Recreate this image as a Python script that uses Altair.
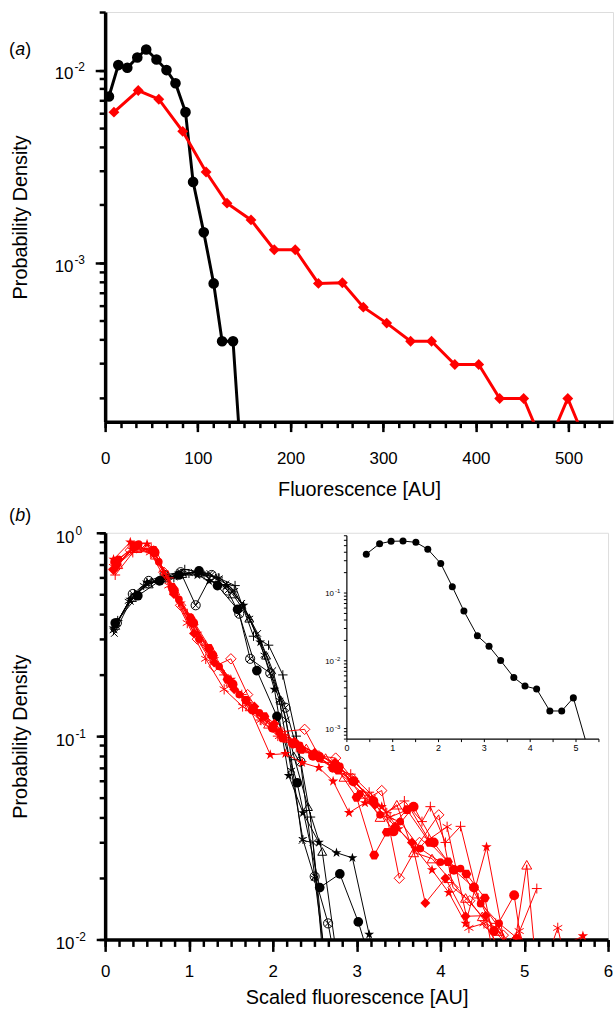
import altair as alt
import pandas as pd

FONT = "Liberation Sans"
BLACK = "#000000"
RED = "#ff0000"

# ---------------- panel (a) data ----------------
a_black_x = [4.1, 14.2, 23.9, 34.7, 44.3, 55.4, 66.2, 75.9, 86.7, 94.9, 106.4, 117.1, 126.2, 138.0, 149.5]
a_black_y = [0.00729, 0.01061, 0.01028, 0.01162, 0.01279, 0.01135, 0.0100, 0.00854, 0.00605, 0.00263,
             0.00144, 0.000782, 0.000392, 0.000392, 0.00006]
a_red_x = [9.5, 35.7, 57.9, 83.7, 108.9, 131.5, 157.4, 182.5, 205.1, 230.1, 256.0, 278.6, 303.8, 329.6,
           352.2, 377.3, 403.1, 425.7, 451.6, 475.2, 499.2, 523.7]
a_red_y = [0.00605, 0.00783, 0.00706, 0.00481, 0.00296, 0.00204, 0.00167, 0.00117, 0.00117, 0.000782,
           0.000788, 0.000589, 0.000487, 0.000392, 0.000392, 0.000297, 0.000297, 0.000198, 0.000198,
           0.000106, 0.000198, 0.000103]
a_x_labels = [0, 100, 200, 300, 400, 500]
a_decades = [0.001, 0.01]
a_decade_exp = ["-3", "-2"]

# ---------------- panel (b) data: black series ----------------
bk_circle_x = [0.12, 0.39, 0.65, 0.88, 1.12, 1.34, 1.58, 1.81, 2.05, 2.29, 2.56, 2.80, 3.02, 3.25]
bk_circle_y = [0.36, 0.49, 0.58, 0.62, 0.65, 0.55, 0.42, 0.21, 0.125, 0.059, 0.018, 0.021, 0.0122, 0.006]
bk_otimes_x = [0.14, 0.33, 0.52, 0.71, 0.90, 1.08, 1.27, 1.46, 1.60, 1.73, 1.97, 2.15, 2.33, 2.50, 2.66, 2.83]
bk_otimes_y = [0.36, 0.50, 0.58, 0.62, 0.64, 0.44, 0.62, 0.52, 0.40, 0.24, 0.204, 0.138, 0.075, 0.0204, 0.012, 0.005]
bk_star_x = [0.10, 0.30, 0.50, 0.70, 0.90, 1.10, 1.24, 1.45, 1.65, 1.85, 2.02, 2.19, 2.36, 2.55, 2.76, 2.95, 3.15, 3.30]
bk_star_y = [0.34, 0.47, 0.57, 0.60, 0.62, 0.62, 0.58, 0.55, 0.44, 0.29, 0.17, 0.064, 0.042, 0.030, 0.0267, 0.0252, 0.0106, 0.005]
bk_aster_x = [0.10, 0.28, 0.46, 0.64, 0.82, 1.00, 1.18, 1.36, 1.54, 1.72, 1.90, 2.08, 2.22, 2.36, 2.50, 2.64]
bk_aster_y = [0.33, 0.46, 0.55, 0.58, 0.60, 0.63, 0.62, 0.60, 0.52, 0.38, 0.25, 0.15, 0.068, 0.031, 0.020, 0.007]
bk_plus_x = [0.15, 0.35, 0.55, 0.75, 0.95, 1.15, 1.35, 1.55, 1.77, 1.95, 2.12, 2.28, 2.45, 2.62]
bk_plus_y = [0.37, 0.50, 0.57, 0.61, 0.66, 0.64, 0.60, 0.55, 0.31, 0.28, 0.20, 0.10, 0.040, 0.008]
bk_tri_x = [0.12, 0.32, 0.52, 0.72, 0.92, 1.12, 1.32, 1.52, 1.72, 1.92, 2.10, 2.25, 2.42, 2.59, 2.75]
bk_tri_y = [0.35, 0.48, 0.56, 0.60, 0.63, 0.64, 0.60, 0.50, 0.38, 0.25, 0.15, 0.080, 0.045, 0.0271, 0.009]
bk_cross_x = [0.11, 0.30, 0.49, 0.68, 0.87, 1.06, 1.25, 1.44, 1.63, 1.82, 2.00, 2.16, 2.35, 2.48, 2.60]
bk_cross_y = [0.32, 0.46, 0.56, 0.59, 0.62, 0.64, 0.63, 0.56, 0.45, 0.32, 0.21, 0.12, 0.0307, 0.030, 0.008]

# ---------------- panel (b) data: red series ----------------
rd_circle_x = [0.12, 0.35, 0.59, 0.82, 1.05, 1.28, 1.52, 1.76, 2.00, 2.24, 2.48, 2.72, 2.96, 3.20, 3.44, 3.68,
               3.92, 4.16, 4.40, 4.64, 4.88, 5.10]
rd_circle_y = [0.72, 0.86, 0.80, 0.52, 0.36, 0.25, 0.18, 0.135, 0.110, 0.092, 0.080, 0.070, 0.060, 0.048, 0.034,
               0.045, 0.030, 0.022, 0.018, 0.011, 0.0165, 0.004]
rd_diam_x = [0.10, 0.30, 0.50, 0.70, 0.90, 1.10, 1.30, 1.50, 1.70, 1.90, 2.10, 2.38, 2.55, 2.75, 2.95, 3.15,
             3.30, 3.51, 3.75, 3.98, 4.15, 4.35, 4.55, 4.75, 4.95]
rd_diam_y = [0.66, 0.82, 0.84, 0.64, 0.44, 0.30, 0.22, 0.24, 0.16, 0.12, 0.105, 0.108, 0.080, 0.078, 0.062, 0.050,
             0.054, 0.020, 0.030, 0.041, 0.018, 0.0155, 0.012, 0.0105, 0.006]
rd_tri_x = [0.15, 0.38, 0.60, 0.83, 1.05, 1.28, 1.50, 1.73, 1.95, 2.18, 2.40, 2.63, 2.85, 3.08, 3.28, 3.48,
            3.68, 3.90, 4.10, 4.30, 4.50, 4.70, 4.86, 5.03, 5.20]
rd_tri_y = [0.70, 0.84, 0.78, 0.52, 0.37, 0.26, 0.185, 0.14, 0.115, 0.098, 0.087, 0.078, 0.063, 0.052, 0.040,
            0.046, 0.0268, 0.025, 0.020, 0.016, 0.013, 0.011, 0.008, 0.0233, 0.004]
rd_plus_x = [0.12, 0.33, 0.55, 0.76, 0.98, 1.20, 1.42, 1.63, 1.85, 2.06, 2.28, 2.50, 2.71, 2.93, 3.15, 3.36,
             3.57, 3.78, 3.88, 4.06, 4.24, 4.45, 4.66, 4.86, 5.15]
rd_plus_y = [0.62, 0.80, 0.84, 0.60, 0.40, 0.28, 0.20, 0.16, 0.12, 0.100, 0.088, 0.082, 0.070, 0.065, 0.053,
             0.042, 0.048, 0.038, 0.045, 0.030, 0.036, 0.016, 0.012, 0.009, 0.0178]
rd_star_x = [0.10, 0.30, 0.50, 0.70, 0.90, 1.10, 1.30, 1.50, 1.70, 1.97, 2.15, 2.35, 2.55, 2.72, 2.91, 3.10,
             3.30, 3.50, 3.70, 3.90, 4.10, 4.30, 4.55, 4.80, 5.10, 5.40, 5.70, 5.85]
rd_star_y = [0.74, 0.90, 0.88, 0.64, 0.45, 0.32, 0.24, 0.19, 0.145, 0.081, 0.082, 0.074, 0.070, 0.060, 0.042,
             0.047, 0.045, 0.035, 0.028, 0.022, 0.017, 0.012, 0.0285, 0.008, 0.006, 0.009, 0.0104, 0.008]
rd_aster_x = [0.10, 0.32, 0.54, 0.76, 0.98, 1.20, 1.42, 1.64, 1.86, 2.08, 2.30, 2.52, 2.74, 2.96, 3.18, 3.40,
              3.64, 3.86, 4.08, 4.34, 4.52, 4.72, 4.94, 5.16, 5.40, 5.60]
rd_aster_y = [0.68, 0.82, 0.80, 0.55, 0.36, 0.24, 0.17, 0.14, 0.12, 0.10, 0.09, 0.08, 0.07, 0.06, 0.05, 0.04,
              0.044, 0.031, 0.0358, 0.0114, 0.012, 0.009, 0.011, 0.006, 0.0114, 0.005]
rd_hex_x = [0.14, 0.36, 0.58, 0.80, 1.02, 1.24, 1.46, 1.68, 1.90, 2.12, 2.34, 2.56, 2.78, 3.00, 3.21, 3.36,
            3.60, 3.87, 4.09, 4.31, 4.53, 4.75]
rd_hex_y = [0.70, 0.86, 0.82, 0.54, 0.38, 0.27, 0.19, 0.15, 0.125, 0.098, 0.086, 0.078, 0.068, 0.050, 0.026,
            0.0337, 0.0435, 0.030, 0.0241, 0.021, 0.016, 0.006]
rd_fdiam_x = [0.10, 0.34, 0.58, 0.82, 1.06, 1.30, 1.54, 1.78, 2.02, 2.26, 2.50, 2.74, 2.98, 3.22, 3.46, 3.66,
              3.82, 4.06, 4.30, 4.54, 4.70]
rd_fdiam_y = [0.66, 0.84, 0.82, 0.50, 0.32, 0.23, 0.17, 0.14, 0.115, 0.094, 0.083, 0.074, 0.060, 0.046, 0.036,
              0.030, 0.0151, 0.020, 0.013, 0.0131, 0.006]
rd_dot_x = [0.16, 0.40, 0.64, 0.88, 1.12, 1.36, 1.60, 1.84, 2.08, 2.32, 2.56, 2.80, 3.04, 3.28, 3.52, 3.76,
            4.00, 4.24, 4.48, 4.70, 4.91, 5.00]
rd_dot_y = [0.74, 0.88, 0.72, 0.47, 0.30, 0.22, 0.16, 0.13, 0.105, 0.090, 0.080, 0.071, 0.052, 0.041, 0.038,
            0.028, 0.024, 0.0223, 0.015, 0.012, 0.0102, 0.005]

b_x_labels = [0, 1, 2, 3, 4, 5, 6]
b_decades = [0.01, 0.1, 1.0]
b_decade_exp = ["-2", "-1", "0"]

# ---------------- inset data ----------------
in_x = [0.424, 0.714, 0.965, 1.225, 1.506, 1.766, 2.048, 2.301, 2.554, 2.848, 3.102, 3.355, 3.643, 3.887,
        4.141, 4.429, 4.688, 4.942, 5.2]
in_y = [0.375, 0.535, 0.580, 0.585, 0.560, 0.443, 0.273, 0.124, 0.0542, 0.0234, 0.0164, 0.0101, 0.00568,
        0.00424, 0.00383, 0.00182, 0.00182, 0.00284, 0.00052]
in_x_labels = [0, 1, 2, 3, 4, 5]
in_decades = [0.001, 0.01, 0.1]
in_decade_exp = ["-3", "-2", "-1"]
IN_DOM_X = [0, 5.5]
IN_DOM_Y = [7e-4, 0.7]

# panel tags: (open paren, italic letter, close paren)
tag_parts = ["(", ")"]
tag_a = "a"
tag_b = "b"

# ---------------- layout constants ----------------
A_W, A_H = 512, 413
B_W, B_H = 507, 410
IN_X0, IN_X1 = 243.7, 497.8
IN_YB, IN_YT = 208, 3

SH_STAR = ("M0,-1L0.2245,-0.309L0.951,-0.309L0.363,0.118L0.588,0.809L0,0.382L-0.588,0.809"
           "L-0.363,0.118L-0.951,-0.309L-0.2245,-0.309Z")
SH_ASTER = "M0,-1L0,1M-0.866,-0.5L0.866,0.5M-0.866,0.5L0.866,-0.5"
SH_PLUS = "M-1,0L1,0M0,-1L0,1"
SH_X = "M-0.75,-0.75L0.75,0.75M-0.75,0.75L0.75,-0.75"
SH_OTIMES = ("M1,0A1,1,0,1,1,-1,0A1,1,0,1,1,1,0M-0.707,-0.707L0.707,0.707"
             "M-0.707,0.707L0.707,-0.707")
SH_HEX = "M1,0L0.5,0.866L-0.5,0.866L-1,0L-0.5,-0.866L0.5,-0.866Z"


def log_ticks(lo, hi):
    out = []
    for e in range(-6, 2):
        for k in range(1, 10):
            v = float(f"{k}e{e}")
            if lo * 0.9999 <= v <= hi * 1.0001:
                out.append(v)
    return out


def minor_axis(orient, values, size, dwidth=3.5, twidth=2.5):
    return alt.Axis(orient=orient, values=values, tickSize=size, tickWidth=twidth, tickColor=BLACK,
                    labels=False, title=None, domain=True, domainWidth=dwidth, domainColor=BLACK,
                    grid=False)


def tag_layers(letter, ypix):
    one = pd.DataFrame({"t": [0]})
    out = []
    out.append(alt.Chart(one).mark_text(align="left", baseline="middle", fontSize=18, font=FONT,
                                        color=BLACK, text=tag_parts[0]).encode(
        x=alt.value(-97), y=alt.value(ypix)))
    out.append(alt.Chart(one).mark_text(align="left", baseline="middle", fontSize=18, font=FONT,
                                        fontStyle="italic", color=BLACK, text=letter).encode(
        x=alt.value(-90.5), y=alt.value(ypix)))
    out.append(alt.Chart(one).mark_text(align="left", baseline="middle", fontSize=18, font=FONT,
                                        color=BLACK, text=tag_parts[1]).encode(
        x=alt.value(-80.5), y=alt.value(ypix)))
    return out


# ================= panel (a) =================
xs_a = alt.Scale(domain=[0, 548], nice=False, zero=False)
ys_a = alt.Scale(type="log", domain=[1.5e-4, 0.02], nice=False)

ax_a_x_major = alt.Axis(orient="bottom", values=a_x_labels, tickSize=10, tickWidth=2.5, tickColor=BLACK,
                        labels=True, labelFont=FONT, labelFontSize=17, labelColor=BLACK, labelPadding=19,
                        labelOverlap=False, labelFlush=False, format="d",
                        title="Fluorescence [AU]", titleFont=FONT, titleFontSize=20,
                        titleFontWeight="normal", titleColor=BLACK, titlePadding=18,
                        minExtent=40, maxExtent=40, domain=False, grid=False)
ax_a_y_major = alt.Axis(orient="left", values=a_decades, tickSize=10, tickWidth=2.5, tickColor=BLACK,
                        labels=False, title="Probability Density", titleFont=FONT, titleFontSize=20,
                        titleFontWeight="normal", titleColor=BLACK, titlePadding=65,
                        minExtent=10, maxExtent=10, domain=False, grid=False)

dfa_k = pd.DataFrame({"x": a_black_x, "y": a_black_y})
dfa_r = pd.DataFrame({"x": a_red_x, "y": a_red_y})
dfa_lab = pd.DataFrame({"y": a_decades, "e": a_decade_exp})

a_line_k = alt.Chart(dfa_k).mark_line(color=BLACK, strokeWidth=3, clip=True).encode(
    x=alt.X("x:Q", scale=xs_a, axis=minor_axis("bottom", [round(i * 100 / 6, 4) for i in range(33)], 6)),
    y=alt.Y("y:Q", scale=ys_a, axis=minor_axis("left", log_ticks(1.5e-4, 0.02), 6)))
a_line_r = alt.Chart(dfa_r).mark_line(color=RED, strokeWidth=3, clip=True).encode(
    x=alt.X("x:Q", scale=xs_a, axis=ax_a_x_major),
    y=alt.Y("y:Q", scale=ys_a, axis=ax_a_y_major))
a_pts_k = alt.Chart(dfa_k).mark_point(shape="circle", filled=True, size=115, color=BLACK, opacity=1,
                                      clip=True).encode(
    x=alt.X("x:Q", scale=xs_a, axis=None), y=alt.Y("y:Q", scale=ys_a, axis=None))
a_pts_r = alt.Chart(dfa_r).mark_point(shape="diamond", filled=True, size=120, color=RED, opacity=1,
                                      clip=True).encode(
    x=alt.X("x:Q", scale=xs_a, axis=None), y=alt.Y("y:Q", scale=ys_a, axis=None))
a_lab10 = alt.Chart(dfa_lab).mark_text(align="right", baseline="middle", dx=-32, dy=4, fontSize=17,
                                       font=FONT, color=BLACK).encode(
    x=alt.value(0), y=alt.Y("y:Q", scale=ys_a, axis=None), text=alt.value("10"))
a_labexp = alt.Chart(dfa_lab).mark_text(align="left", baseline="middle", dx=-31, dy=-3, fontSize=12,
                                        font=FONT, color=BLACK).encode(
    x=alt.value(0), y=alt.Y("y:Q", scale=ys_a, axis=None), text="e:N")

panel_a = alt.layer(a_line_k, a_line_r, a_pts_k, a_pts_r, a_lab10, a_labexp,
                    *tag_layers(tag_a, 38.5)).resolve_axis(
    x="independent", y="independent").properties(width=A_W, height=A_H)

# ================= panel (b) main =================
xs_b = alt.Scale(domain=[0, 6], nice=False, zero=False)
ys_b = alt.Scale(type="log", domain=[0.01, 1.0], nice=False)

ax_b_x_major = alt.Axis(orient="bottom", values=b_x_labels, tickSize=12, tickWidth=2.5, tickColor=BLACK,
                        labels=True, labelFont=FONT, labelFontSize=17, labelColor=BLACK, labelPadding=12,
                        labelOverlap=False, labelFlush=False, format="d",
                        title="Scaled fluorescence [AU]", titleFont=FONT, titleFontSize=20,
                        titleFontWeight="normal", titleColor=BLACK, titlePadding=19,
                        minExtent=30, maxExtent=30, domain=False, grid=False)
ax_b_y_major = alt.Axis(orient="left", values=b_decades, tickSize=9, tickWidth=2.5, tickColor=BLACK,
                        labels=False, title="Probability Density", titleFont=FONT, titleFontSize=20,
                        titleFontWeight="normal", titleColor=BLACK, titlePadding=66,
                        minExtent=9, maxExtent=9, domain=False, grid=False)

series_b = [
    (bk_circle_x, bk_circle_y, BLACK, "circle", True, 95),
    (bk_otimes_x, bk_otimes_y, BLACK, SH_OTIMES, False, 85),
    (bk_star_x, bk_star_y, BLACK, SH_STAR, True, 110),
    (bk_aster_x, bk_aster_y, BLACK, SH_ASTER, False, 80),
    (bk_plus_x, bk_plus_y, BLACK, SH_PLUS, False, 90),
    (bk_tri_x, bk_tri_y, BLACK, "triangle-up", False, 80),
    (bk_cross_x, bk_cross_y, BLACK, SH_X, False, 80),
    (rd_circle_x, rd_circle_y, RED, "circle", True, 100),
    (rd_diam_x, rd_diam_y, RED, "diamond", False, 110),
    (rd_tri_x, rd_tri_y, RED, "triangle-up", False, 100),
    (rd_plus_x, rd_plus_y, RED, SH_PLUS, False, 100),
    (rd_star_x, rd_star_y, RED, SH_STAR, True, 120),
    (rd_aster_x, rd_aster_y, RED, SH_ASTER, False, 110),
    (rd_hex_x, rd_hex_y, RED, SH_HEX, True, 100),
    (rd_fdiam_x, rd_fdiam_y, RED, "diamond", True, 100),
    (rd_dot_x, rd_dot_y, RED, "circle", True, 60),
]

b_layers = []
for i, (sx, sy, col, shp, fil, sz) in enumerate(series_b):
    df = pd.DataFrame({"x": sx, "y": sy})
    if i == 0:
        xa = minor_axis("bottom", [round(k / 6, 5) for k in range(37)], 7)
        ya = minor_axis("left", log_ticks(0.01, 1.0), 6)
    elif i == 1:
        xa, ya = ax_b_x_major, ax_b_y_major
    else:
        xa, ya = None, None
    b_layers.append(alt.Chart(df).mark_line(color=col, strokeWidth=1, clip=True).encode(
        x=alt.X("x:Q", scale=xs_b, axis=xa), y=alt.Y("y:Q", scale=ys_b, axis=ya)))
    b_layers.append(alt.Chart(df).mark_point(shape=shp, filled=fil, size=sz, color=col, strokeWidth=1,
                                             opacity=1, clip=True).encode(
        x=alt.X("x:Q", scale=xs_b, axis=None), y=alt.Y("y:Q", scale=ys_b, axis=None)))

dfb_lab = pd.DataFrame({"y": b_decades, "e": b_decade_exp})
b_layers.append(alt.Chart(dfb_lab).mark_text(align="right", baseline="middle", dx=-31, dy=5, fontSize=17,
                                             font=FONT, color=BLACK).encode(
    x=alt.value(0), y=alt.Y("y:Q", scale=ys_b, axis=None), text=alt.value("10")))
b_layers.append(alt.Chart(dfb_lab).mark_text(align="left", baseline="middle", dx=-30, dy=-2, fontSize=12,
                                             font=FONT, color=BLACK).encode(
    x=alt.value(0), y=alt.Y("y:Q", scale=ys_b, axis=None), text="e:N"))
b_layers.extend(tag_layers(tag_b, -16.5))

main_b = alt.layer(*b_layers).resolve_axis(x="independent", y="independent")

# ================= inset (axes drawn with rules on the inset scales) =================
xs_i = alt.Scale(domain=IN_DOM_X, range=[IN_X0, IN_X1], nice=False, zero=False)
ys_i = alt.Scale(type="log", domain=IN_DOM_Y, range=[IN_YB, IN_YT], nice=False, clamp=True)


def ix(field="x"):
    return alt.X(f"{field}:Q", scale=xs_i, axis=None)


def iy(field="y"):
    return alt.Y(f"{field}:Q", scale=ys_i, axis=None)


dfi = pd.DataFrame({"x": in_x, "y": in_y})
in_line = alt.Chart(dfi).mark_line(color=BLACK, strokeWidth=1).encode(x=ix(), y=iy())
in_pts = alt.Chart(dfi).transform_filter(f"datum.y >= {IN_DOM_Y[0]}").mark_point(
    shape="circle", filled=True, size=50, color=BLACK, opacity=1).encode(x=ix(), y=iy())

df_ix_dom = pd.DataFrame({"x": [IN_DOM_X[0]], "x2": [IN_DOM_X[1]], "y": [IN_DOM_Y[0]]})
in_xdom = alt.Chart(df_ix_dom).mark_rule(color=BLACK, strokeWidth=1.2).encode(
    x=ix(), x2="x2:Q", y=iy())
df_iy_dom = pd.DataFrame({"x": [IN_DOM_X[0]], "y": [IN_DOM_Y[0]], "y2": [IN_DOM_Y[1]]})
in_ydom = alt.Chart(df_iy_dom).mark_rule(color=BLACK, strokeWidth=1.2).encode(
    x=ix(), y=iy(), y2="y2:Q")
in_xt = [k * 0.5 for k in range(12)]
df_ixt = pd.DataFrame({"x": in_xt, "y": [IN_DOM_Y[0]] * len(in_xt)})
in_xticks = alt.Chart(df_ixt).mark_rule(color=BLACK, strokeWidth=1).encode(
    x=ix(), y=iy(), y2=alt.value(IN_YB + 3))
df_iyt = pd.DataFrame({"y": log_ticks(IN_DOM_Y[0], IN_DOM_Y[1])})
in_yticks = alt.Chart(df_iyt).mark_rule(color=BLACK, strokeWidth=1).encode(
    x=alt.value(IN_X0 - 3), x2=alt.value(IN_X0), y=iy())
df_ixl = pd.DataFrame({"x": in_x_labels, "y": [IN_DOM_Y[0]] * len(in_x_labels)})
in_xlab = alt.Chart(df_ixl).mark_text(baseline="top", dy=5, fontSize=9, font=FONT, color=BLACK).encode(
    x=ix(), y=iy(), text=alt.Text("x:Q", format="d"))
dfi_lab = pd.DataFrame({"y": in_decades, "e": in_decade_exp})
in_lab10 = alt.Chart(dfi_lab).mark_text(align="right", baseline="middle", dx=-13, dy=1, fontSize=8,
                                        font=FONT, color=BLACK).encode(
    x=alt.value(IN_X0), y=iy(), text=alt.value("10"))
in_labexp = alt.Chart(dfi_lab).mark_text(align="left", baseline="middle", dx=-12, dy=-2, fontSize=6,
                                         font=FONT, color=BLACK).encode(
    x=alt.value(IN_X0), y=iy(), text="e:N")

inset = alt.layer(in_xdom, in_ydom, in_xticks, in_yticks, in_xlab, in_line, in_pts, in_lab10, in_labexp)

panel_b = alt.layer(main_b, inset).resolve_scale(x="independent", y="independent").properties(
    width=B_W, height=B_H)

chart = alt.vconcat(panel_a, panel_b, spacing=112, bounds="flush").properties(
    padding={"left": 8, "top": 6, "right": 0, "bottom": 0}
).configure_view(stroke=None).configure(font=FONT, background="white")

chart.save("out.html", embed_options={"renderer": "svg", "actions": False})
